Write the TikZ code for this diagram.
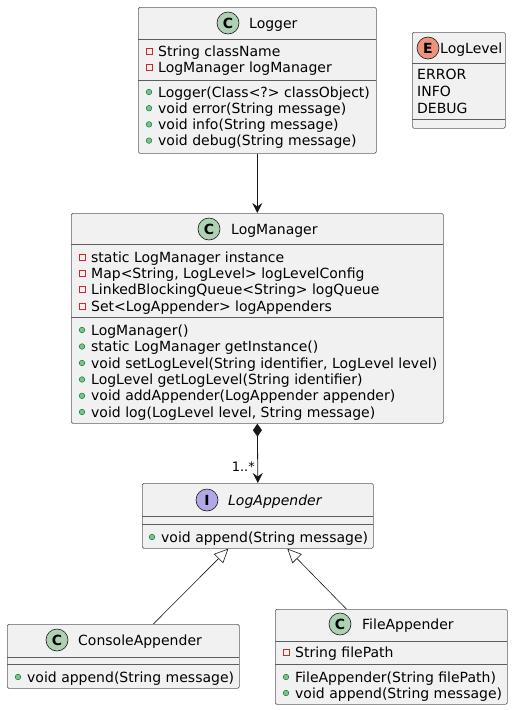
\documentclass[tikz,border=0pt]{standalone}
\usepackage{fontspec}
\setmainfont{DejaVu Sans}
\usetikzlibrary{arrows.meta,calc}
\definecolor{boxfill}{HTML}{F1F1F1}
\definecolor{boxdraw}{HTML}{181818}
\definecolor{sepc}{HTML}{181818}
\definecolor{edgec}{HTML}{181818}
\definecolor{privc}{HTML}{C82930}
\definecolor{pubfill}{HTML}{84BE84}
\definecolor{pubdraw}{HTML}{038048}
\definecolor{cfill}{HTML}{ADD1B2}
\definecolor{ifill}{HTML}{B4A7E5}
\definecolor{efill}{HTML}{EB937F}
\tikzset{
  umlbox/.style={draw=boxdraw!70, fill=boxfill, line width=0.7pt, rounded corners=1.5pt, inner sep=0pt, anchor=north west},
  sepline/.style={draw=sepc!70, line width=0.6pt},
  member/.style={anchor=base west, inner sep=0pt, font=\fontsize{14}{16}\selectfont},
  title/.style={anchor=base west, inner sep=0pt, font=\fontsize{14}{16}\selectfont},
  iconc/.style={circle, draw=boxdraw, line width=0.6pt, minimum size=22pt, inner sep=0pt, font=\fontsize{14}{16}\selectfont\bfseries},
  edge/.style={draw=edgec, line width=0.8pt},
}
\newcommand\pubm[5]{%
  \fill[pubfill, draw=pubdraw, line width=0.5pt] (#2,#4) circle (2.8pt);
  \node[member] (#1) at (#3,#4+5) {#5};}
\newcommand\privm[5]{%
  \draw[privc, line width=0.8pt] (#2-3,#4-3) rectangle (#2+3,#4+3);
  \node[member] (#1) at (#3,#4+5) {#5};}
\newcommand\plainm[4]{%
  \node[member] (#1) at (#2,#3+5) {#4};}
\begin{document}
\begin{tikzpicture}[x=1pt,y=-1pt]
\useasboundingbox (0,0) rectangle (513,710);

% ---------- Logger ----------
\node[umlbox, minimum width=238pt, minimum height=146pt] (logger) at (138,7) {};
\draw[sepline] (138,39) -- (376,39);
\draw[sepline] (138,80) -- (376,80);
\node[iconc, fill=cfill] (loggericon) at (228,23) {C};
\node[title] (loggername) at (249,28) {Logger};
\privm{lg1}{149}{158}{51.5}{String className}
\privm{lg2}{149}{158}{67.7}{LogManager logManager}
\pubm{lg3}{149}{158}{92}{Logger(Class<?> classObject)}
\pubm{lg4}{149}{158}{108.2}{void error(String message)}
\pubm{lg5}{149}{158}{124.4}{void info(String message)}
\pubm{lg6}{149}{158}{140.6}{void debug(String message)}

% ---------- LogLevel ----------
\node[umlbox, minimum width=93pt, minimum height=96pt] (loglevel) at (412,32) {};
\draw[sepline] (412,63) -- (505,63);
\draw[sepline] (412,119) -- (505,119);
\node[iconc, fill=efill] (loglevelicon) at (428,48) {E};
\node[title] (loglevelname) at (440,53) {LogLevel};
\plainm{ll1}{417}{74}{ERROR}
\plainm{ll2}{417}{91}{INFO}
\plainm{ll3}{417}{108}{DEBUG}

% ---------- LogManager ----------
\node[umlbox, minimum width=372pt, minimum height=210pt] (manager) at (71,213) {};
\draw[sepline] (71,244) -- (443,244);
\draw[sepline] (71,317) -- (443,317);
\node[iconc, fill=cfill] (managericon) at (209,229) {C};
\node[title] (managername) at (231,234) {LogManager};
\privm{lm1}{82}{91}{257}{static LogManager instance}
\privm{lm2}{82}{91}{273.3}{Map<String, LogLevel> logLevelConfig}
\privm{lm3}{82}{91}{289.6}{LinkedBlockingQueue<String> logQueue}
\privm{lm4}{82}{91}{306}{Set<LogAppender> logAppenders}
\pubm{lm5}{82}{91}{330}{LogManager()}
\pubm{lm6}{82}{91}{346.5}{static LogManager getInstance()}
\pubm{lm7}{82}{91}{363}{void setLogLevel(String identifier, LogLevel level)}
\pubm{lm8}{82}{91}{379.5}{LogLevel getLogLevel(String identifier)}
\pubm{lm9}{82}{91}{395.8}{void addAppender(LogAppender appender)}
\pubm{lm10}{82}{91}{412}{void log(LogLevel level, String message)}

% ---------- LogAppender ----------
\node[umlbox, minimum width=231pt, minimum height=65pt] (appender) at (142,483) {};
\draw[sepline] (142,516) -- (373,516);
\draw[sepline] (142,524) -- (373,524);
\node[iconc, fill=ifill] (appendericon) at (207,500) {I};
\node[title, font=\fontsize{14}{16}\selectfont\itshape] (appendername) at (228,505) {LogAppender};
\pubm{la1}{152}{161}{537}{void append(String message)}

% ---------- ConsoleAppender ----------
\node[umlbox, minimum width=232pt, minimum height=64pt] (console) at (7,624) {};
\draw[sepline] (7,657) -- (239,657);
\draw[sepline] (7,664) -- (239,664);
\node[iconc, fill=cfill] (consoleicon) at (57,640) {C};
\node[title] (consolename) at (78,645) {ConsoleAppender};
\pubm{ca1}{18}{27}{677}{void append(String message)}

% ---------- FileAppender ----------
\node[umlbox, minimum width=232pt, minimum height=95pt] (file) at (275,609) {};
\draw[sepline] (275,641) -- (507,641);
\draw[sepline] (275,664) -- (507,664);
\node[iconc, fill=cfill] (fileicon) at (340,624) {C};
\node[title] (filename) at (362,629) {FileAppender};
\privm{fa1}{286}{295}{652}{String filePath}
\pubm{fa2}{286}{295}{677}{FileAppender(String filePath)}
\pubm{fa3}{286}{295}{693}{void append(String message)}

% ---------- connectors ----------
\draw[edge, -{Stealth[length=10pt,width=10pt,inset=3.5pt]}] (logger.south) -- (manager.north);
\draw[edge, {Diamond[length=13pt,width=9pt,fill=edgec]}-{Stealth[length=10pt,width=10pt,inset=3.5pt]}]
  (manager.south) -- (appender.north);
\node[anchor=east, inner sep=0pt, font=\fontsize{13}{15}\selectfont] (mult) at (255,467) {1..*};
\draw[edge, line width=0.6pt, -{Triangle[open,length=14pt,width=13pt,fill=white]}]
  ($(console.north)+(30,0)$) -- ($(appender.south)+(-29.5,0)$);
\draw[edge, line width=0.6pt, -{Triangle[open,length=14pt,width=13pt,fill=white]}]
  ($(file.north)+(-45,0)$) -- ($(appender.south)+(29.5,0)$);
\end{tikzpicture}
\end{document}
